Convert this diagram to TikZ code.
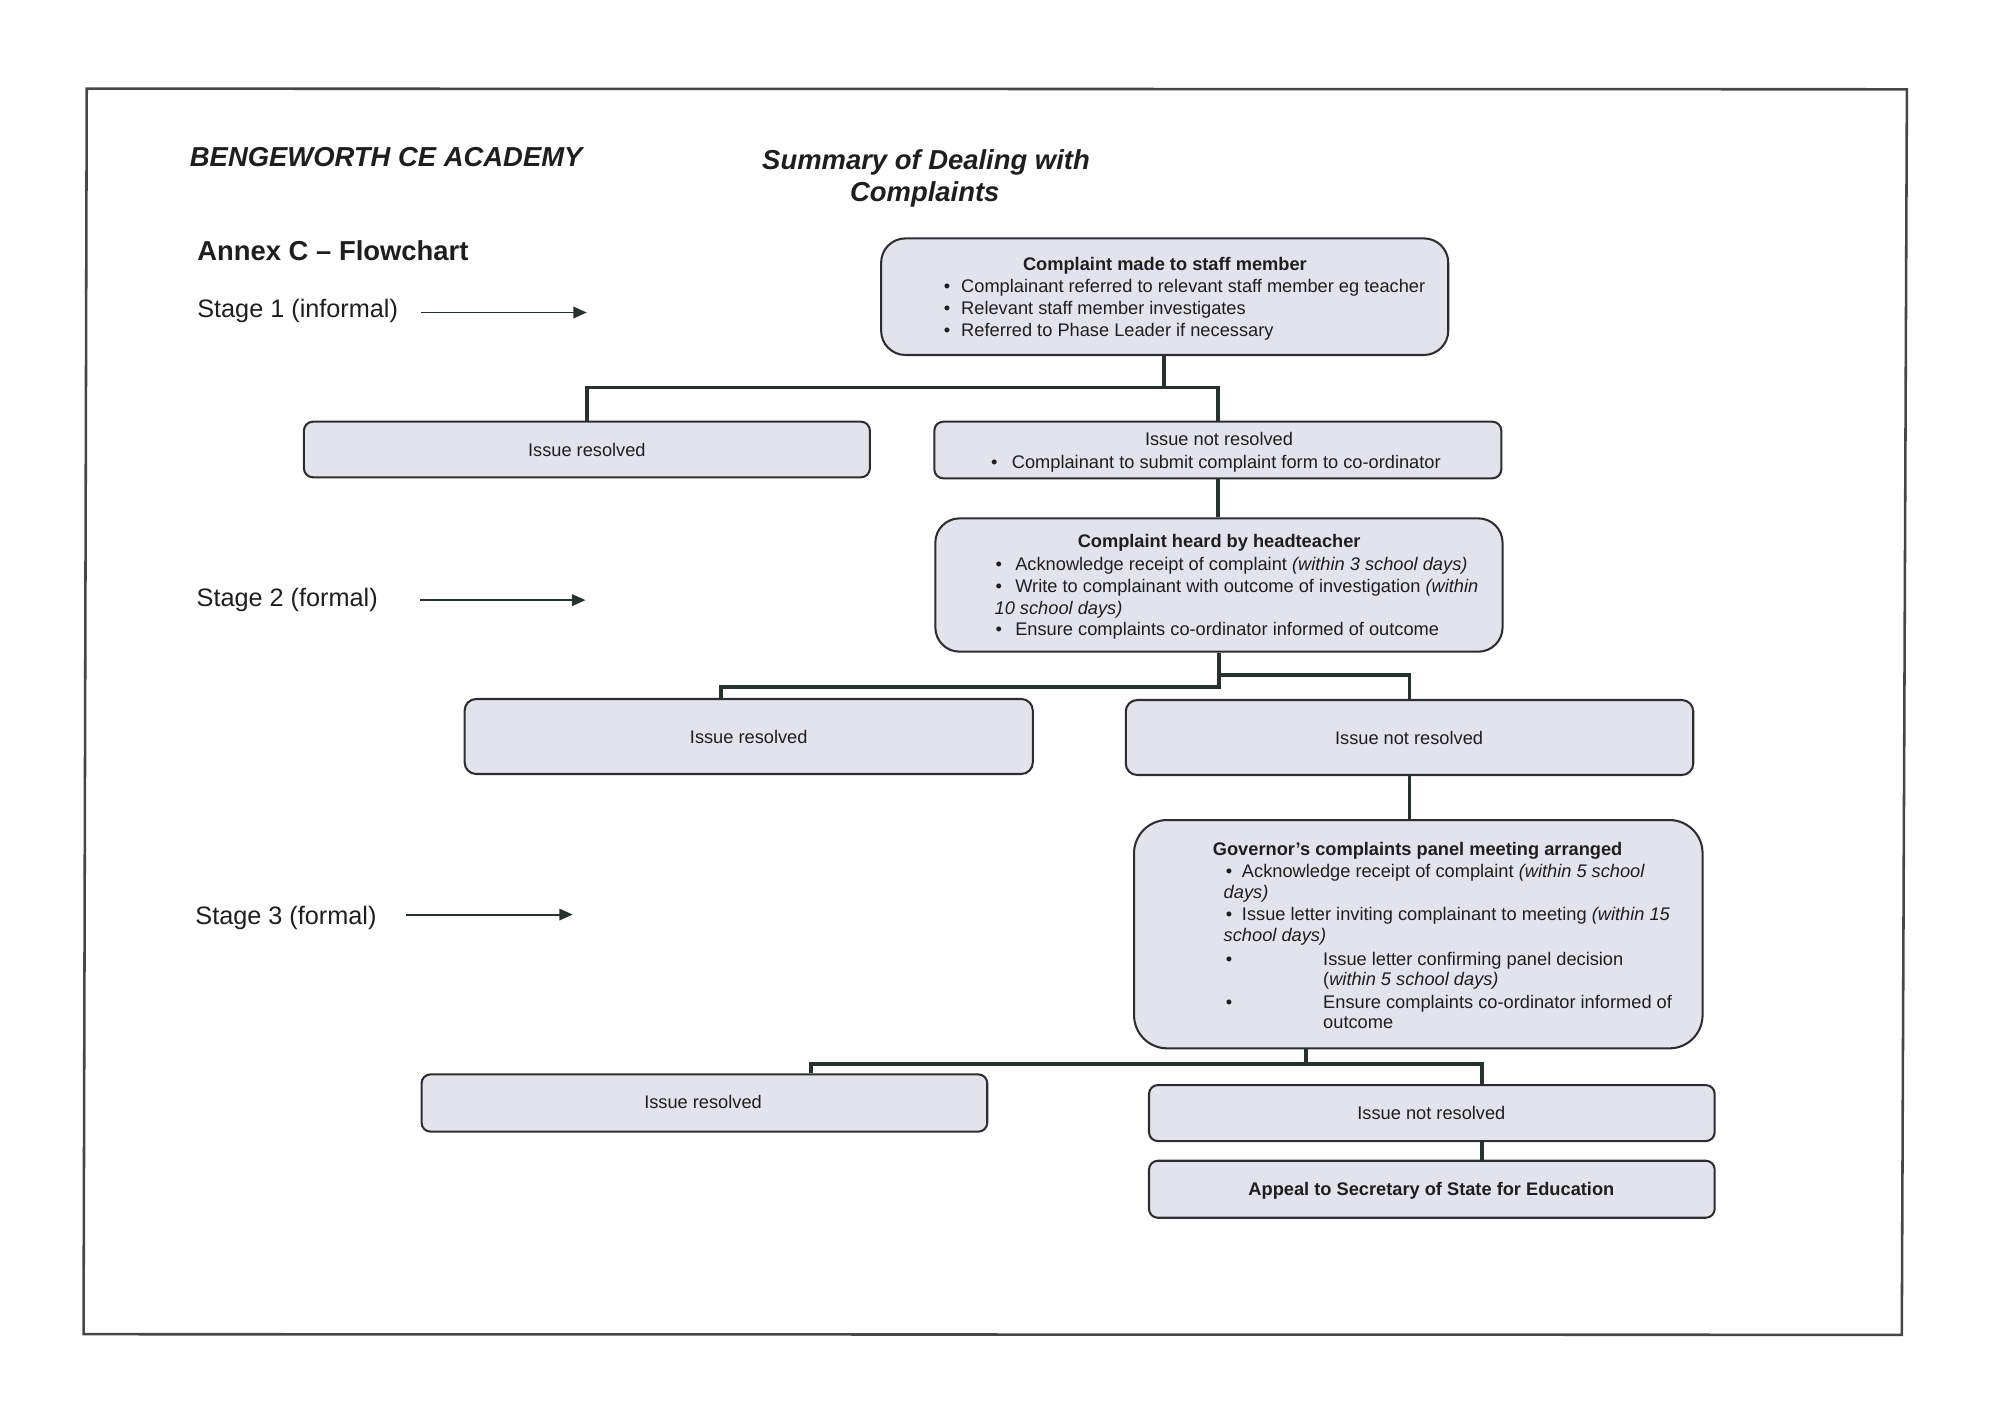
\documentclass[tikz,border=0pt]{standalone}
\usepackage{fontspec}
\setmainfont{Liberation Sans}
\usetikzlibrary{arrows.meta}
\definecolor{ink}{RGB}{30,30,30}
\definecolor{boxfill}{RGB}{227,227,237}
\definecolor{boxline}{RGB}{45,45,48}
\definecolor{connline}{RGB}{37,50,45}
\definecolor{framecol}{RGB}{70,70,72}
\newcommand\bodyfont{\fontsize{14.3}{17}\selectfont}
\newcommand\stagefont{\fontsize{19.8}{24}\selectfont}
\newcommand\titlefont{\fontsize{21.5}{26}\selectfont}
\tikzset{
  flowbox/.style={draw=boxline, fill=boxfill, line width=1.6pt, inner sep=0pt},
  bigbox/.style={flowbox, rounded corners=19pt},
  smallbox/.style={flowbox, rounded corners=7pt},
  tx/.style={inner sep=0pt, outer sep=0pt, font=\bodyfont, text=ink},
  lft/.style={tx, anchor=base west},
  ctr/.style={tx, anchor=base},
  conn/.style={draw=connline, line width=3.1pt},
  stagearrow/.style={draw=connline, line width=1.5pt, -{Triangle[length=10.5pt,width=9pt]}},
  stagelabel/.style={inner sep=0pt, anchor=base west, font=\stagefont, text=ink},
}
\begin{document}
\begin{tikzpicture}[x=1pt,y=-1pt]
\useasboundingbox (0,0) rectangle (1568,1108.6);
% page frame
\draw[framecol, line width=2pt] (68,69.5) -- (1495,70) -- (1491,1046.5) -- (65.5,1046) -- cycle;

% titles
\node[inner sep=0pt, anchor=base west, font=\titlefont\bfseries\itshape, text=ink] (title) at (148.7,130.6) {BENGEWORTH CE ACADEMY};
\node[inner sep=0pt, anchor=base, font=\titlefont\bfseries\itshape, text=ink] (sum1) at (726,132.5) {Summary of Dealing with};
\node[inner sep=0pt, anchor=base, font=\titlefont\bfseries\itshape, text=ink] (sum2) at (725,158.3) {Complaints};
\node[inner sep=0pt, anchor=base west, font=\titlefont\bfseries, text=ink] (annex) at (154.5,204.5) {Annex C – Flowchart};

% stage labels and arrows
\node[stagelabel] (st1) at (154.5,249) {Stage 1 (informal)};
\node[stagelabel] (st2) at (154,475.5) {Stage 2 (formal)};
\node[stagelabel] (st3) at (153,724.5) {Stage 3 (formal)};
\coordinate (a1s) at (330,245); \coordinate (a1e) at (460,245);
\coordinate (a2s) at (329,470.5); \coordinate (a2e) at (459,470.5);
\coordinate (a3s) at (318,717); \coordinate (a3e) at (449,717);
\draw[stagearrow] (a1s) -- (a1e);
\draw[stagearrow] (a2s) -- (a2e);
\draw[stagearrow] (a3s) -- (a3e);

% boxes
\node[bigbox, minimum width=444.6pt, minimum height=91.4pt] (b1) at (913.1,232.6) {};
\node[smallbox, minimum width=443.7pt, minimum height=43.6pt] (s1L) at (460.15,352.4) {};
\node[smallbox, minimum width=444.5pt, minimum height=44.4pt] (s1R) at (954.75,352.8) {};
\node[bigbox, minimum width=444.7pt, minimum height=104.5pt] (b2) at (955.65,458.65) {};
\node[smallbox, rounded corners=9pt, minimum width=445.4pt, minimum height=58.8pt] (s2L) at (587,577.4) {};
\node[smallbox, rounded corners=9pt, minimum width=444.9pt, minimum height=58.8pt] (s2R) at (1105.05,578.2) {};
\node[bigbox, rounded corners=26pt, minimum width=445.7pt, minimum height=179pt] (b3) at (1111.95,732.4) {};
\node[smallbox, minimum width=443.5pt, minimum height=44.9pt] (s3L) at (552.25,864.75) {};
\node[smallbox, minimum width=443.5pt, minimum height=43.9pt] (s3R) at (1122.55,872.65) {};
\node[smallbox, minimum width=443.5pt, minimum height=44.7pt] (ap) at (1122.55,932.35) {};

% connectors
\coordinate (j1) at (912.5,303.8);
\draw[conn] (j1 |- b1.south) -- (j1);
\draw[conn] (s1L.north) |- (j1) -| (s1R.north);
\draw[conn] (s1R.south) -- (s1R.south |- b2.north);
\coordinate (j2) at (955.65,538.3);
\coordinate (j2l) at (565.4,538.3);
\coordinate (j2r) at (955.65,529.5);
\draw[conn] (b2.south) -- (j2) -- (j2l) -- (j2l |- s2L.north);
\draw[conn] (j2r) -| (s2R.north);
\draw[conn] (s2R.south) -- (s2R.south |- b3.north);
\coordinate (k3) at (1023.7,834.2);
\coordinate (k3l) at (635.6,834.2);
\coordinate (k3r) at (1161.5,834.2);
\draw[conn] (k3 |- b3.south) -- (k3);
\draw[conn] (k3l |- s3L.north) -- (k3l) -- (k3r) -- (k3r |- s3R.north);
\draw[conn] (k3r |- s3R.south) -- (k3r |- ap.north);

% box 1 text
\node[ctr, font=\bodyfont\bfseries] (b1h) at (913.3,212) {Complaint made to staff member};
\node[lft] (b1u1) at (740,229.5) {•};
\node[lft] (b1l1) at (753.6,229.5) {Complainant referred to relevant staff member eg teacher};
\node[lft] (b1u2) at (740,246.5) {•};
\node[lft] (b1l2) at (753.6,246.5) {Relevant staff member investigates};
\node[lft] (b1u3) at (740,263.5) {•};
\node[lft] (b1l3) at (753.6,263.5) {Referred to Phase Leader if necessary};

% stage 1 outcomes
\node[ctr] (s1Lt) at (460.1,357.5) {Issue resolved};
\node[ctr] (s1Rt) at (955.7,349.5) {Issue not resolved};
\node[lft] (s1Ru) at (777,367.5) {•};
\node[lft] (s1Rl) at (793.3,367.5) {Complainant to submit complaint form to co-ordinator};

% box 2 text
\node[ctr, font=\bodyfont\bfseries] (b2h) at (955.8,429) {Complaint heard by headteacher};
\node[lft] (b2u1) at (780.5,447) {•};
\node[lft] (b2l1) at (796,447) {Acknowledge receipt of complaint \textit{(within 3 school days)}};
\node[lft] (b2u2) at (780.5,464.5) {•};
\node[lft] (b2l2) at (796,464.5) {Write to complainant with outcome of investigation \textit{(within}};
\node[lft] (b2l2b) at (779.8,481.5) {\textit{10 school days)}};
\node[lft] (b2u3) at (780.5,498.5) {•};
\node[lft] (b2l3) at (796,498.5) {Ensure complaints co-ordinator informed of outcome};

% stage 2 outcomes
\node[ctr] (s2Lt) at (587,582.8) {Issue resolved};
\node[ctr] (s2Rt) at (1104.7,583.8) {Issue not resolved};

% box 3 text
\node[lft, font=\bodyfont\bfseries] (b3h) at (950.9,670.8) {Governor’s complaints panel meeting arranged};
\node[lft] (b3u1) at (961,688) {•};
\node[lft] (b3l1) at (973.7,688) {Acknowledge receipt of complaint \textit{(within 5 school}};
\node[lft] (b3l1b) at (959.4,704.5) {\textit{days)}};
\node[lft] (b3u2) at (961,722) {•};
\node[lft] (b3l2) at (973.7,722) {Issue letter inviting complainant to meeting \textit{(within 15}};
\node[lft] (b3l2b) at (959.4,738) {\textit{school days)}};
\node[lft] (b3u3) at (961,757) {•};
\node[lft] (b3l3) at (1037.4,757) {Issue letter confirming panel decision};
\node[lft] (b3l3b) at (1037.4,773) {(\textit{within 5 school days)}};
\node[lft] (b3u4) at (961,791) {•};
\node[lft] (b3l4) at (1037.4,791) {Ensure complaints co-ordinator informed of};
\node[lft] (b3l4b) at (1037.4,806.5) {outcome};

% stage 3 outcomes
\node[ctr] (s3Lt) at (551.2,869.4) {Issue resolved};
\node[ctr] (s3Rt) at (1122.2,877.3) {Issue not resolved};
\node[ctr, font=\bodyfont\bfseries] (apt) at (1122.2,937.4) {Appeal to Secretary of State for Education};
\end{tikzpicture}
\end{document}
